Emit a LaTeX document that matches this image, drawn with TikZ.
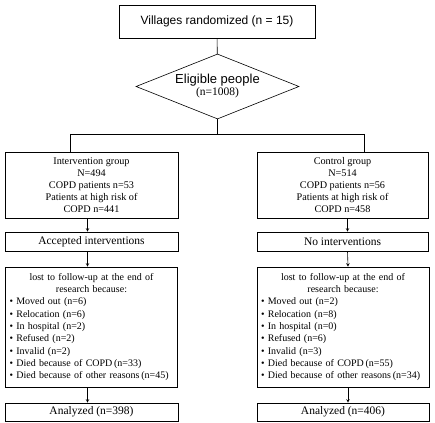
\documentclass[tikz,border=0pt]{standalone}
\usepackage{fontspec}
\setmainfont{Liberation Serif}
\setsansfont{Liberation Sans}
\usetikzlibrary{shapes.geometric}

\begin{document}
\begin{tikzpicture}[x=1pt,y=1pt,>=stealth,line width=0.6pt,
    box/.style={draw,rectangle,inner sep=2pt,align=center,font=\fontsize{10.2}{12}\selectfont},
    thinbox/.style={box,minimum height=19pt,font=\fontsize{11.5}{12}\selectfont},
    lostbox/.style={box,align=left,inner xsep=4pt,minimum height=120pt,text width=164pt,
      font=\fontsize{10}{12.3}\selectfont},
    arr/.style={->,shorten >=0pt}]
    \useasboundingbox (0,0) rectangle (435,422);

    \node[box,minimum width=196pt,minimum height=33pt,font=\sffamily\fontsize{12}{14}\selectfont]
    (villages) at (217,400.5) {Villages randomized (n = 15)};
    \node[draw,diamond,aspect=2.5,inner sep=0pt,minimum width=163pt,minimum height=65pt,align=center]
    (eligible) at (217.5,335.5) {{\sffamily\fontsize{13}{13}\selectfont Eligible people}\\[0pt]
      {\fontsize{11.5}{12}\selectfont (n=1008)}};

    \coordinate (lft) at (70,288); \coordinate (rgt) at (364,288);
    \draw (villages) -- (eligible);
    \draw (eligible.south) -- (eligible.south |- lft);
    \draw (lft) -- (rgt);

    % groups
    \node[box,minimum width=173pt,minimum height=66pt] (intgroup) at (91.5,237)
    {Intervention group\\ N=494\\ COPD patients n=53\\ Patients at high risk of\\ COPD n=441};
    \node[box,minimum width=171pt,minimum height=66pt] (ctlgroup) at (342.5,237)
    {Control group\\ N=514\\ COPD patients n=56\\ Patients at high risk of\\ COPD n=458};
    \draw (lft) -- (lft |- intgroup.north);
    \draw (rgt) -- (rgt |- ctlgroup.north);

    \node[thinbox,minimum width=173pt] (accepted) at (91.5,180.5) {Accepted interventions};
    \node[thinbox,minimum width=171pt] (nointerv) at (342.5,180.5) {No interventions};

    \node[lostbox] (lostint) at (91.5,95)
    {\makebox[\linewidth]{lost to follow-up at the end of}\\
      \makebox[\linewidth]{research because:}\\
      \textbullet\ Moved out (n=6)\\
      \textbullet\ Relocation (n=6)\\
      \textbullet\ In hospital (n=2)\\
      \textbullet\ Refused (n=2)\\
      \textbullet\ Invalid (n=2)\\
      \textbullet\ Died because of COPD\,(n=33)\\
      \textbullet\ Died because of other reasons\,(n=45)};
    \node[lostbox] (lostctl) at (343,95)
    {\makebox[\linewidth]{lost to follow-up at the end of}\\
      \makebox[\linewidth]{research because:}\\
      \textbullet\ Moved out (n=2)\\
      \textbullet\ Relocation (n=8)\\
      \textbullet\ In hospital (n=0)\\
      \textbullet\ Refused (n=6)\\
      \textbullet\ Invalid (n=3)\\
      \textbullet\ Died because of COPD\,(n=55)\\
      \textbullet\ Died because of other reasons\,(n=34)};

    \node[thinbox,minimum width=173pt,minimum height=18pt] (analint) at (91.5,10) {Analyzed (n=398)};
    \node[thinbox,minimum width=172pt,minimum height=18pt] (analctl) at (343,10) {Analyzed (n=406)};

    \draw[arr] ([xshift=-4pt]intgroup.south) -- ([xshift=-4pt]accepted.north);
    \draw[arr] ([xshift=-4pt]accepted.south) -- ([xshift=-4pt]lostint.north);
    \draw[arr] ([xshift=-4pt]lostint.south) -- ([xshift=-4pt]analint.north);
    \draw[arr] ([xshift=5pt]ctlgroup.south) -- ([xshift=5pt]nointerv.north);
    \draw[arr] ([xshift=5pt]nointerv.south) -- ([xshift=5pt]lostctl.north);
    \draw[arr] ([xshift=5pt]lostctl.south) -- ([xshift=5pt]analctl.north);

  \end{tikzpicture}
\end{document}
